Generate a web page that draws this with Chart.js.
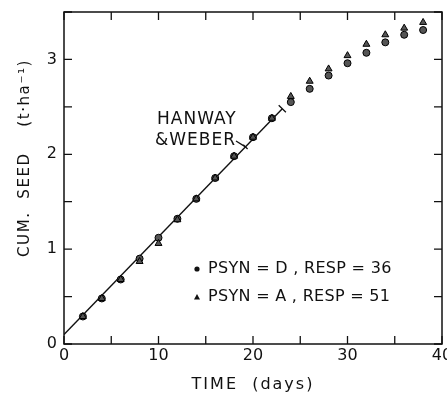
<!DOCTYPE html>
<html>
<head>
<meta charset="utf-8">
<script src="https://cdn.jsdelivr.net/npm/chart.js@4.4.0/dist/chart.umd.min.js"></script>
<style>
  html, body { margin: 0; padding: 0; background: #fff; }
  #wrap { width: 447px; height: 394px; }
</style>
</head>
<body>
<div id="wrap"><canvas id="chartBiji"></canvas></div>
<script>
// waktu (hari) dan hasil biji kumulatif (t/ha)
const days = [2, 4, 6, 8, 10, 12, 14, 16, 18, 20, 22, 24, 26, 28, 30, 32, 34, 36, 38];
const seedD = [0.29, 0.48, 0.68, 0.90, 1.12, 1.32, 1.53, 1.75, 1.98, 2.18, 2.38, 2.55, 2.69, 2.83, 2.96, 3.07, 3.18, 3.26, 3.31];
const seedA = [0.29, 0.48, 0.68, 0.87, 1.06, 1.31, 1.53, 1.75, 1.98, 2.18, 2.38, 2.61, 2.77, 2.90, 3.04, 3.16, 3.26, 3.33, 3.39];

// garis Hanway & Weber
const hwDays = [0, 23.1];
const hwSeed = [0.1, 2.48];

// label dan tanda sumbu
const xTickLabels = [0, 10, 20, 30, 40];
const yTickLabels = [0, 1, 2, 3];
const xTickMarks = [0, 5, 10, 15, 20, 25, 30, 35, 40];
const yTickMarks = [0, 0.5, 1, 1.5, 2, 2.5, 3, 3.5];

const FONT = '"DejaVu Sans", sans-serif';
const INK = '#111';

function hwAt(d) {
    return hwSeed[0] + (hwSeed[1] - hwSeed[0]) * (d - hwDays[0]) / (hwDays[1] - hwDays[0]);
}

// bingkai, tanda ke dalam, judul sumbu dan keterangan
const hiasan = {
    id: 'hiasan',
    afterDraw(chart) {
        const { ctx, chartArea: a, scales: { x, y } } = chart;
        ctx.save();
        ctx.strokeStyle = INK;
        ctx.fillStyle = INK;

        ctx.lineWidth = 1.5;
        ctx.strokeRect(a.left, a.top, a.right - a.left, a.bottom - a.top);

        ctx.lineWidth = 1.3;
        ctx.beginPath();
        xTickMarks.forEach(v => {
            const px = x.getPixelForValue(v);
            ctx.moveTo(px, a.bottom); ctx.lineTo(px, a.bottom - 8);
            ctx.moveTo(px, a.top); ctx.lineTo(px, a.top + 8);
        });
        yTickMarks.forEach(v => {
            const py = y.getPixelForValue(v);
            ctx.moveTo(a.left, py); ctx.lineTo(a.left + 8, py);
            ctx.moveTo(a.right, py); ctx.lineTo(a.right - 8, py);
        });
        ctx.stroke();

        // arah garis H&W dalam piksel, untuk tanda tegak lurus
        const p0x = x.getPixelForValue(hwDays[0]), p0y = y.getPixelForValue(hwSeed[0]);
        const p1x = x.getPixelForValue(hwDays[1]), p1y = y.getPixelForValue(hwSeed[1]);
        const len = Math.hypot(p1x - p0x, p1y - p0y);
        const nx = -(p1y - p0y) / len, ny = (p1x - p0x) / len;
        const perp = (d, r) => {
            const cx = x.getPixelForValue(d), cy = y.getPixelForValue(hwAt(d));
            ctx.moveTo(cx - nx * r, cy - ny * r);
            ctx.lineTo(cx + nx * r, cy + ny * r);
        };
        ctx.lineWidth = 1.3;
        ctx.beginPath();
        perp(hwDays[1], 5);
        perp(19.2, 3);
        // penunjuk dari teks ke garis
        ctx.moveTo(236, 141);
        ctx.lineTo(x.getPixelForValue(19.2), y.getPixelForValue(hwAt(19.2)));
        ctx.stroke();

        ctx.textBaseline = 'middle';
        ctx.textAlign = 'left';
        ctx.font = '17px ' + FONT;
        ctx.letterSpacing = '1px';
        ctx.fillText('HANWAY', 157, 120);
        ctx.fillText('&WEBER', 155, 141);

        // keterangan simbol
        ctx.font = '16px ' + FONT;
        ctx.letterSpacing = '0.3px';
        ctx.fillText('PSYN = D , RESP = 36', 208, 269);
        ctx.fillText('PSYN = A , RESP = 51', 208, 297);
        ctx.beginPath();
        ctx.arc(197, 269, 2.6, 0, Math.PI * 2);
        ctx.fill();
        ctx.beginPath();
        ctx.moveTo(197, 294); ctx.lineTo(200, 299.5); ctx.lineTo(194, 299.5);
        ctx.closePath();
        ctx.fill();

        // judul sumbu
        ctx.textAlign = 'center';
        ctx.font = '16px ' + FONT;
        ctx.letterSpacing = '2px';
        ctx.fillText('TIME  (days)', (a.left + a.right) / 2, 385);

        ctx.translate(25, 158);
        ctx.rotate(-Math.PI / 2);
        ctx.font = '15px ' + FONT;
        ctx.letterSpacing = '1.6px';
        ctx.fillText('CUM.  SEED    (t·ha⁻¹)', 0, 0);
        ctx.restore();
    }
};

const tickFont = { family: FONT, size: 16 };

const config = {
    type: 'scatter',
    data: {
        datasets: [
            {
                label: 'PSYN=D, RESP=36',
                data: days.map((d, i) => ({ x: d, y: seedD[i] })),
                pointStyle: 'circle',
                pointRadius: 3.5,
                backgroundColor: '#555',
                borderColor: '#000',
                borderWidth: 1,
                order: 2
            },
            {
                label: 'PSYN=A, RESP=51',
                data: days.map((d, i) => ({ x: d, y: seedA[i] })),
                pointStyle: 'triangle',
                pointRadius: 4,
                backgroundColor: '#555',
                borderColor: '#000',
                borderWidth: 1,
                order: 1
            },
            {
                label: 'Hanway & Weber',
                data: hwDays.map((d, i) => ({ x: d, y: hwSeed[i] })),
                showLine: true,
                pointRadius: 0,
                borderColor: INK,
                borderWidth: 1.4,
                order: 3
            }
        ]
    },
    options: {
        responsive: true,
        maintainAspectRatio: false,
        animation: false,
        layout: { padding: { top: 12, right: 3, left: 0, bottom: 0 } },
        plugins: {
            legend: { display: false },
            tooltip: { enabled: false }
        },
        scales: {
            x: {
                type: 'linear',
                min: 0,
                max: 40,
                grid: { display: false, drawTicks: false },
                border: { display: false },
                ticks: { font: tickFont, color: INK, padding: 2, maxRotation: 0, autoSkip: false },
                afterBuildTicks: s => { s.ticks = xTickLabels.map(v => ({ value: v })); },
                afterFit: s => { s.height = 50; s.paddingLeft = 0; s.paddingRight = 0; }
            },
            y: {
                type: 'linear',
                min: 0,
                max: 3.5,
                grid: { display: false, drawTicks: false },
                border: { display: false },
                ticks: { font: tickFont, color: INK, padding: 7, autoSkip: false },
                afterBuildTicks: s => { s.ticks = yTickLabels.map(v => ({ value: v })); },
                afterFit: s => { s.width = 64; s.paddingTop = 0; s.paddingBottom = 0; }
            }
        }
    },
    plugins: [hiasan]
};

new Chart(document.getElementById('chartBiji').getContext('2d'), config);
</script>
</body>
</html>
